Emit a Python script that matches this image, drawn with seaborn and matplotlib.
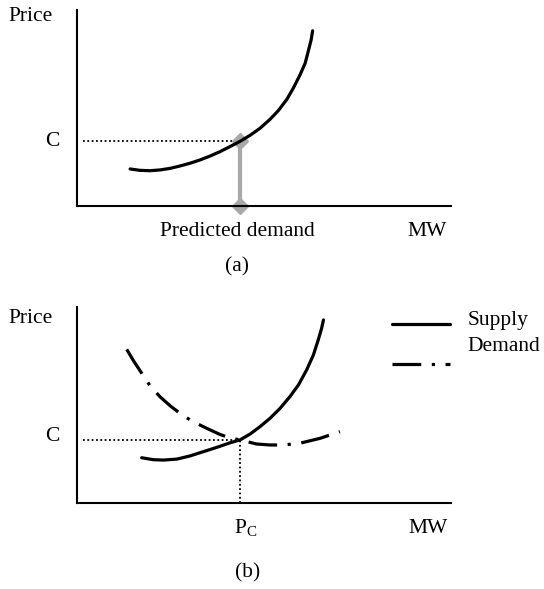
import matplotlib
matplotlib.use('Agg')
import matplotlib.pyplot as plt
import seaborn as sns
from matplotlib.lines import Line2D

# curve (a): supply (MW vs price, arbitrary 0-100 scale)
supply_a_x = [14.2, 16.8, 19.5, 22.2, 24.9, 27.5, 30.2, 32.9, 35.6, 38.2, 40.9, 43.6,
              46.3, 48.9, 51.6, 53.8, 56.1, 57.8, 59.6, 61.0, 61.8, 62.6, 63.0]
supply_a_y = [18.9, 18.2, 18.0, 18.4, 19.2, 20.4, 21.8, 23.5, 25.5, 27.7, 30.3, 33.0,
              36.1, 39.6, 44.2, 48.6, 54.4, 60.0, 66.8, 72.8, 78.7, 84.7, 89.4]
price_c_a = 33.0
predicted_demand = 43.6

# curves (b): supply and demand
supply_b_x = [17.3, 20.4, 23.1, 26.7, 30.2, 33.8, 37.4, 40.9, 43.6, 46.3, 48.9,
              51.6, 54.3, 56.9, 59.2, 61.4, 63.2, 64.5, 65.4, 65.9]
supply_b_y = [23.1, 22.1, 21.9, 22.4, 24.0, 26.2, 28.4, 30.7, 32.2, 35.2, 38.9,
              43.2, 48.3, 54.2, 60.2, 67.9, 75.5, 83.2, 89.1, 93.4]
demand_b_x = [13.3, 15.1, 17.3, 19.5, 22.2, 24.9, 27.5, 30.7, 34.7, 38.2, 40.9,
              43.6, 48.0, 51.6, 55.2, 59.6, 65.0, 70.3]
demand_b_y = [78.4, 72.6, 66.2, 59.9, 54.2, 49.6, 45.8, 41.8, 38.1, 35.0, 33.2,
              32.2, 30.1, 29.6, 29.6, 30.5, 33.0, 36.4]
price_c_b = 32.2
p_c = 43.6

legend_labels = ['Supply', 'Demand']

sns.set_style('white')
plt.rcParams['font.family'] = ['Liberation Serif', 'DejaVu Serif']
plt.rcParams['text.color'] = 'black'
plt.rcParams['mathtext.fontset'] = 'custom'
plt.rcParams['mathtext.rm'] = 'Liberation Serif'
FS = 15.5

fig = plt.figure(figsize=(5.44, 5.89), dpi=100)
W, H = 544, 589


def make_axes(bottom_px):
    ax = fig.add_axes([77 / W, (H - bottom_px) / H, 374 / W, 196 / H])
    ax.set_xlim(0, 100)
    ax.set_ylim(0, 100)
    for s in ['top', 'right']:
        ax.spines[s].set_visible(False)
    for s in ['left', 'bottom']:
        ax.spines[s].set_linewidth(1.5)
        ax.spines[s].set_color('black')
    ax.set_xticks([])
    ax.set_yticks([])
    return ax


dot = dict(color='black', lw=1.3, linestyle=(0, (1, 1.4)))
curve = dict(sort=False, estimator=None, color='black', lw=2.3, zorder=3)

# ---- (a)
ax1 = make_axes(206)
ax1.hlines(price_c_a, 1.5, predicted_demand, **dot)
ax1.plot([predicted_demand, predicted_demand], [0, price_c_a], color='#a8a8a8',
         lw=3, marker='D', markersize=8, zorder=2)
sns.lineplot(x=supply_a_x, y=supply_a_y, ax=ax1, **curve)
ax1.set_xlabel('')
ax1.set_ylabel('')
ax1.text(-18.4, 96.5, 'Price', fontsize=FS, ha='left', va='center')
ax1.text(-6.7, price_c_a, 'C', fontsize=FS, ha='center', va='center')
ax1.text(predicted_demand - 0.8, -15.3, 'Predicted demand', fontsize=FS,
         ha='center', va='baseline')
ax1.text(98.9, -15.3, 'MW', fontsize=FS, ha='right', va='baseline')
ax1.text(42.8, -31, '(a)', fontsize=FS, ha='center', va='center')

# ---- (b)
ax2 = make_axes(503)
ax2.hlines(price_c_b, 1.5, p_c, **dot)
ax2.vlines(p_c, 0, price_c_b, **dot)
sns.lineplot(x=supply_b_x, y=supply_b_y, ax=ax2, **curve)
sns.lineplot(x=demand_b_x, y=demand_b_y, ax=ax2, **curve)
ax2.lines[-1].set_dashes((9, 3.3, 1, 3.3))
ax2.set_xlabel('')
ax2.set_ylabel('')
ax2.text(-18.4, 93.9, 'Price', fontsize=FS, ha='left', va='center')
ax2.text(-6.7, price_c_b + 1.5, 'C', fontsize=FS, ha='center', va='center')
ax2.text(p_c + 1.5, -15.3, r'$\mathrm{P_C}$', fontsize=FS, ha='center', va='baseline')
ax2.text(99.2, -15.3, 'MW', fontsize=FS, ha='right', va='baseline')
ax2.text(45.5, -35.7, '(b)', fontsize=FS, ha='center', va='center')

# legend drawn by hand to keep the original offset between text and lines
l1 = Line2D([0.842, 0.997], [0.913, 0.913], transform=ax2.transAxes,
            color='black', lw=2.3)
l2 = Line2D([0.842, 0.997], [0.709, 0.709], transform=ax2.transAxes,
            color='black', lw=2.3, dashes=(9, 3.3, 1, 3.3))
ax2.add_line(l1)
ax2.add_line(l2)
ax2.text(1.045, 0.929, legend_labels[0], transform=ax2.transAxes,
         fontsize=FS, ha='left', va='center')
ax2.text(1.045, 0.796, legend_labels[1], transform=ax2.transAxes,
         fontsize=FS, ha='left', va='center')

for ax in (ax1, ax2):
    for ln in ax.lines:
        ln.set_clip_on(False)
        ln.set_solid_joinstyle('round')

fig.savefig('out.png', dpi=100)
